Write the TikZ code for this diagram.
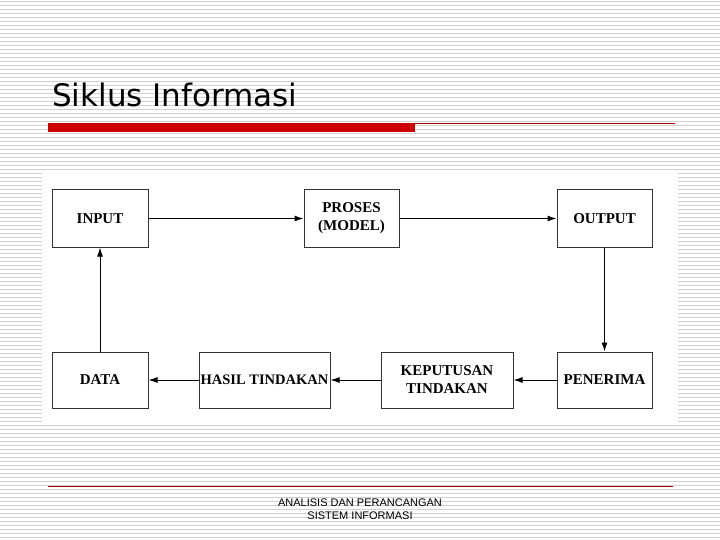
\documentclass[tikz,border=0pt]{standalone}
\usepackage{fontspec}
\setmainfont{Liberation Serif}
\setsansfont{Liberation Sans}
\newfontfamily\titlefont{DejaVu Sans}
\usetikzlibrary{arrows.meta}
\begin{document}
\begin{tikzpicture}[x=1pt,y=-1pt,
  box/.style={draw=black!80,line width=1pt,fill=white,inner sep=0pt,align=center,font=\bfseries\fontsize{15}{18}\selectfont},
  arr/.style={-{Latex[length=9pt,width=6pt]},line width=1pt}]
\useasboundingbox (0,0) rectangle (720,540);
\fill[white] (0,0) rectangle (720,540);
\foreach \i in {0,...,134}{\draw[black!18,line width=1pt] (0,\i*4+1.5) -- (720,\i*4+1.5);}
\node[anchor=base west,font=\titlefont\fontsize{31}{36}\selectfont,inner sep=0pt] (title) at (52,107) {Siklus Informasi};
\fill[red!80!black] (48,123) rectangle (415,132);
\draw[red!70!black,line width=0.6pt] (415,123.5) -- (675,123.5);
\fill[white] (42,172) rectangle (678,425);
\node[box,minimum width=96,minimum height=57] (input) at (100,218.5) {INPUT};
\node[box,minimum width=95,minimum height=57] (proses) at (351.5,218.5) {PROSES\\(MODEL)};
\node[box,minimum width=95,minimum height=57] (output) at (604.5,218.5) {OUTPUT};
\node[box,minimum width=96,minimum height=56] (data) at (100,380) {DATA};
\node[box,minimum width=131,minimum height=56] (hasil) at (264.5,380) {\fontsize{14.5}{18}\selectfont HASIL TINDAKAN};
\node[box,minimum width=132,minimum height=56] (kep) at (447,380) {KEPUTUSAN\\TINDAKAN};
\node[box,minimum width=95,minimum height=56] (pen) at (604.5,380) {PENERIMA};
\draw[arr] (input) -- (proses);
\draw[arr] (proses) -- (output);
\draw[arr] (output) -- (pen);
\draw[arr] (pen) -- (kep);
\draw[arr] (kep) -- (hasil);
\draw[arr] (hasil) -- (data);
\draw[arr] (data) -- (input);
\draw[red!70!black,line width=0.6pt] (48,486) -- (673,486);
\node[font=\sffamily\fontsize{11}{13}\selectfont,align=center,inner sep=0pt] (foot) at (360,509) {ANALISIS DAN PERANCANGAN\\SISTEM INFORMASI};
\end{tikzpicture}
\end{document}
